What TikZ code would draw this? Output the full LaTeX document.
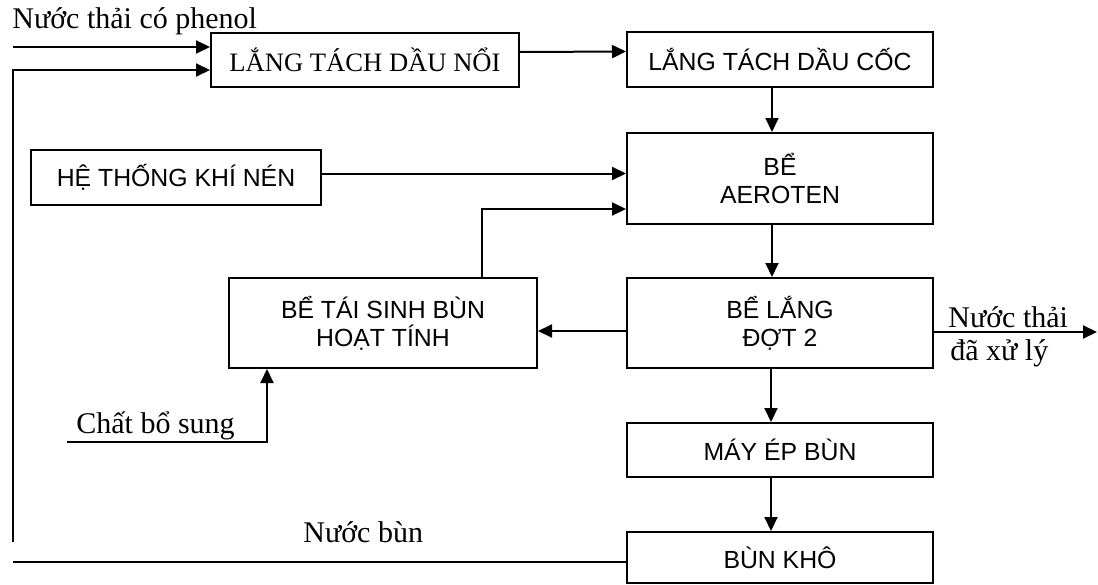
\documentclass[tikz,border=0pt]{standalone}
\usepackage{fontspec}
\setmainfont{Liberation Serif}
\newfontfamily\arialfont{Liberation Sans}
\usetikzlibrary{arrows.meta}

\begin{document}
\begin{tikzpicture}[x=0.5pt,y=-0.5pt,
  box/.style={draw,line width=1pt,inner sep=0pt,align=center,
    font=\arialfont\fontsize{12.4}{14.2}\selectfont},
  arr/.style={line width=1pt,-{Triangle[length=7pt,width=6.5pt]}},
  lab/.style={inner sep=0pt,anchor=base west,font=\fontsize{15}{17}\selectfont}]
\useasboundingbox (0,0) rectangle (1098,584);

\node[box,minimum width=154pt,minimum height=27pt,
  font=\fontsize{13.3}{15}\selectfont] (noi) at (365,60) {LẮNG TÁCH DẦU NỔI};
\node[box,minimum width=153pt,minimum height=27.5pt] (coc) at (780,59.5) {LẮNG TÁCH DẦU CỐC};
\node[box,minimum width=153pt,minimum height=45.5pt] (aeroten) at (780,178.5) {BỂ\\AEROTEN};
\node[box,minimum width=145pt,minimum height=27.5pt] (khi) at (176,177.5) {HỆ THỐNG KHÍ NÉN};
\node[box,minimum width=154pt,minimum height=45pt] (taisinh) at (383,323) {BỂ TÁI SINH BÙN\\HOẠT TÍNH};
\node[box,minimum width=153pt,minimum height=45pt] (lang) at (780,323) {BỂ LẮNG\\ĐỢT 2};
\node[box,minimum width=153pt,minimum height=27pt] (mayep) at (780,450) {MÁY ÉP BÙN};
\node[box,minimum width=153pt,minimum height=25.5pt] (bunkho) at (780,557.5) {BÙN KHÔ};

\node[lab] (phenol) at (12,28) {Nước thải có phenol};
\node[lab] (bosung) at (76,433) {Chất bổ sung};
\node[lab] (nuocbun) at (303,542) {Nước bùn};
\node[lab] (ra1) at (948,327) {Nước thải};
\node[lab] (ra2) at (950,360) {đã xử lý};

\coordinate (vao) at (13,47);
\coordinate (hoi1) at (13,542);
\coordinate (hoi2) at (13,562);
\coordinate (hoi3) at (13,70);
\coordinate (bs) at (67,442);
\coordinate (ra) at (1097,332);

\draw[arr] (vao) -- (vao -| noi.west);
\draw[arr] (hoi1) -- (hoi3) -- (hoi3 -| noi.west);
\draw[line width=1pt] (hoi2) -- (hoi2 -| bunkho.west);
\draw[arr] ([yshift=4pt]noi.east) -- ([yshift=4pt]coc.west);
\draw[arr] ([xshift=-4pt]coc.south) -- ([xshift=-4pt]aeroten.north);
\draw[arr] ([yshift=2pt]khi.east) -- ([yshift=2.5pt]aeroten.west);
\draw[arr] ([xshift=49.5pt]taisinh.north) |- ([yshift=-15.25pt]aeroten.west);
\draw[arr] ([xshift=-4pt]aeroten.south) -- ([xshift=-4pt]lang.north);
\draw[arr] ([yshift=-4pt]lang.west) -- ([yshift=-4pt]taisinh.east);
\draw[arr] ([yshift=-4.5pt]lang.east) -- (ra);
\draw[arr] ([xshift=-4.5pt]lang.south) -- ([xshift=-4.5pt]mayep.north);
\draw[arr] ([xshift=-4.5pt]mayep.south) -- ([xshift=-4.5pt]bunkho.north);
\draw[arr] (bs) -| ([xshift=-58pt]taisinh.south);
\end{tikzpicture}
\end{document}
